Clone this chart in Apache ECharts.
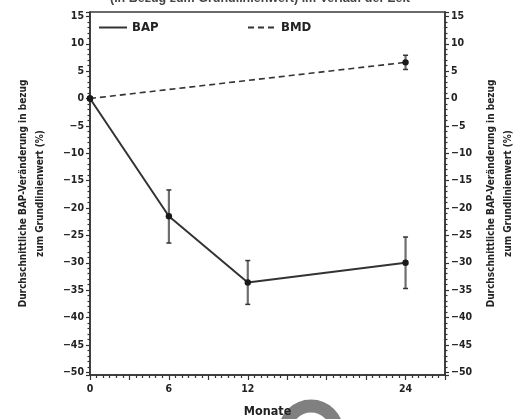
<!DOCTYPE html>
<html>
<head>
<meta charset="utf-8">
<script src="https://cdn.jsdelivr.net/npm/echarts@6/dist/echarts.min.js"></script>
<style>
  html, body { margin: 0; padding: 0; background: #fff; }
  #chart { width: 520px; height: 419px; }
</style>
</head>
<body>
<div id="chart"></div>
<script>
// Mean change from baseline (%) with error bars, per month
const months = [0, 6, 12, 24];
const bapMean = [0, -21.5, -33.6, -30.0];
const bapLow = [0, -26.4, -37.6, -34.7];
const bapHigh = [0, -16.7, -29.6, -25.3];

const bmdMonths = [0, 24];
const bmdMean = [0, 6.6];
const bmdLow = [0, 5.3];
const bmdHigh = [0, 7.9];

const monthLabels = [0, 6, 12, 24];
const yLabelStep = 5;

const titleText = '(in Bezug zum Grundlinienwert) im Verlauf der Zeit';
const yName = 'Durchschnittliche BAP-Veränderung in bezug\nzum Grundlinienwert (%)';
const xName = 'Monate';

const FONT = "'DejaVu Sans Condensed', 'Liberation Sans Narrow', sans-serif";
const NARROW = "'Liberation Sans Narrow', 'DejaVu Sans Condensed', sans-serif";
const INK = '#222';

function pairs(xs, ys) { return xs.map((x, i) => [x, ys[i]]); }
function bars(xs, mean, lo, hi) { return xs.map((x, i) => [x, lo[i], hi[i], mean[i]]); }

function yLabel(v) {
  if (Math.abs(v % yLabelStep) > 1e-9) return '';
  return String(v).replace('-', '\u2212');
}

function errorBarItem(params, api) {
  const x = api.value(0);
  const lo = api.coord([x, api.value(1)]);
  const hi = api.coord([x, api.value(2)]);
  const c = api.coord([x, api.value(3)]);
  const children = [];
  if (Math.abs(lo[1] - hi[1]) > 0.5) {
    children.push({ type: 'line', shape: { x1: c[0], y1: hi[1], x2: c[0], y2: lo[1] },
      style: { stroke: '#6e6e6e', lineWidth: 2.2 } });
    children.push({ type: 'line', shape: { x1: c[0] - 2.5, y1: hi[1], x2: c[0] + 2.5, y2: hi[1] },
      style: { stroke: '#333', lineWidth: 1.5 } });
    children.push({ type: 'line', shape: { x1: c[0] - 2.5, y1: lo[1], x2: c[0] + 2.5, y2: lo[1] },
      style: { stroke: '#333', lineWidth: 1.5 } });
  }
  children.push({ type: 'circle', shape: { cx: c[0], cy: c[1], r: 3.2 }, style: { fill: '#1a1a1a' } });
  return { type: 'group', children };
}

const valueAxisCommon = {
  type: 'value',
  min: -50.5,
  max: 15.8,
  minInterval: 5,
  maxInterval: 5,
  splitLine: { show: false },
  axisLine: { show: true, onZero: false, lineStyle: { color: '#333', width: 1.5 } },
  axisTick: { show: true, length: 4, lineStyle: { color: '#333', width: 1.2 } },
  minorTick: { show: true, splitNumber: 5, length: 2.5, lineStyle: { color: '#333', width: 1.2 } },
  axisLabel: { formatter: yLabel, color: INK, fontFamily: FONT, fontWeight: 'bold', fontSize: 10.5, margin: 6 },
  name: yName,
  nameLocation: 'middle',
  nameRotate: 90,
  nameTextStyle: { color: INK, fontFamily: NARROW, fontWeight: 'bold', fontSize: 10, lineHeight: 17 }
};

const legendText = { color: INK, fontFamily: NARROW, fontWeight: 'bold', fontSize: 13 };

const chart = echarts.init(document.getElementById('chart'));
chart.setOption({
  animation: false,
  backgroundColor: '#fff',
  grid: { left: 90, right: 75, top: 12, bottom: 44, outerBoundsMode: 'none',
    show: true, borderColor: '#3a3a3a', borderWidth: 1.5 },
  legend: [
    { data: ['BAP'], left: 93, top: 16, itemWidth: 28, itemHeight: 12, itemStyle: { opacity: 0 },
      textStyle: legendText },
    { data: ['BMD'], left: 242, top: 16, itemWidth: 28, itemHeight: 12, itemStyle: { opacity: 0 },
      textStyle: legendText }
  ],
  xAxis: {
    type: 'value', min: 0, max: 27, interval: 3,
    splitLine: { show: false },
    axisLine: { onZero: false, lineStyle: { color: '#333', width: 1.5 } },
    axisTick: { length: 5, lineStyle: { color: '#333', width: 1.2 } },
    minorTick: { show: true, splitNumber: 6, length: 3, lineStyle: { color: '#333', width: 1.2 } },
    axisLabel: {
      formatter: v => (monthLabels.indexOf(v) >= 0 ? String(v) : ''),
      color: INK, fontFamily: FONT, fontWeight: 'bold', fontSize: 10.5, margin: 9
    },
    name: xName, nameLocation: 'middle', nameGap: 30,
    nameTextStyle: { color: INK, fontFamily: NARROW, fontWeight: 'bold', fontSize: 12.5 }
  },
  yAxis: [
    Object.assign({}, valueAxisCommon, { position: 'left', nameGap: 41 }),
    Object.assign({}, valueAxisCommon, { position: 'right', nameGap: 37 })
  ],
  series: [
    { name: 'BAP', type: 'line', data: pairs(months, bapMean), symbol: 'none',
      lineStyle: { color: '#333', width: 2 }, itemStyle: { color: '#333' }, z: 2 },
    { name: 'BMD', type: 'line', data: pairs(bmdMonths, bmdMean), symbol: 'none',
      lineStyle: { color: '#333', width: 1.6, type: [6, 4] }, itemStyle: { color: '#333' }, z: 2 },
    { type: 'custom', data: bars(months, bapMean, bapLow, bapHigh), renderItem: errorBarItem, z: 3 },
    { type: 'custom', data: bars(bmdMonths, bmdMean, bmdLow, bmdHigh), renderItem: errorBarItem, z: 3 }
  ],
  graphic: [
    { type: 'text', left: 'center', top: -8,
      style: { text: titleText, font: "bold 12.5px 'Liberation Sans Narrow', sans-serif", fill: '#444' } },
    { type: 'arc', shape: { cx: 311, cy: 432, r: 26, startAngle: Math.PI, endAngle: 2 * Math.PI },
      style: { stroke: '#808080', lineWidth: 13, fill: null }, z: -1 }
  ]
});
</script>
</body>
</html>
